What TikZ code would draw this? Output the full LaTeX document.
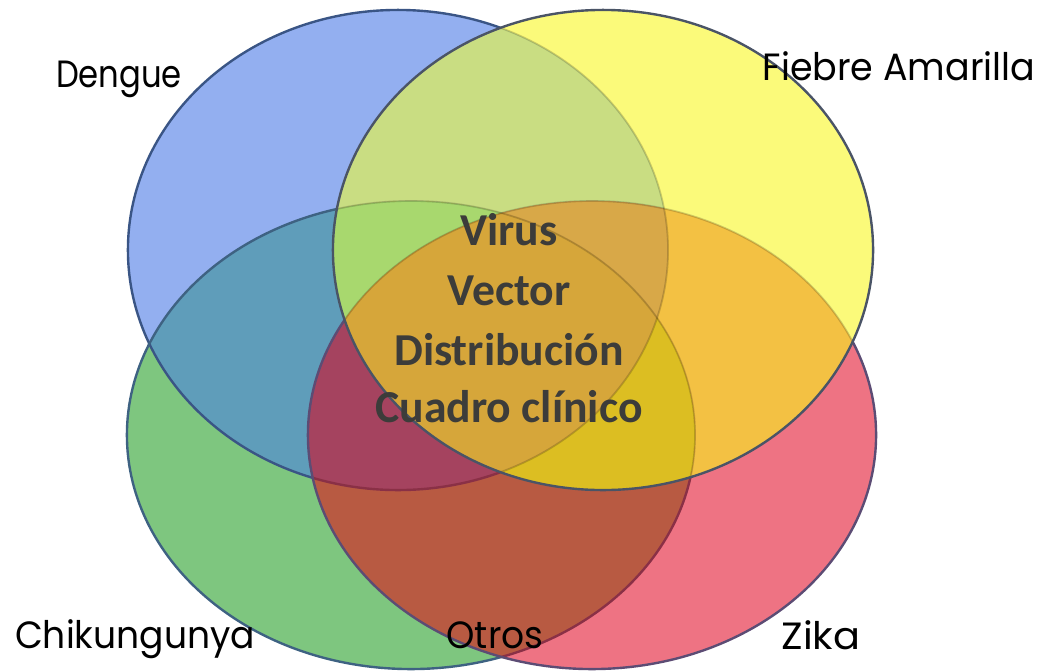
\documentclass[tikz,border=0pt]{standalone}
\usepackage{fontspec}
\newfontfamily\labfont{Poppins}
\newfontfamily\ctrfont{Carlito}
\definecolor{cB}{HTML}{93AFF0}
\definecolor{cY}{HTML}{FBFA7A}
\definecolor{cG}{HTML}{7EC67F}
\definecolor{cR}{HTML}{EE7383}
\definecolor{cBY}{HTML}{C9DD82}
\definecolor{cBG}{HTML}{5F9DBA}
\definecolor{cBR}{HTML}{A5435F}
\definecolor{cYG}{HTML}{DCBE22}
\definecolor{cYR}{HTML}{F3C143}
\definecolor{cGR}{HTML}{B85A42}
\definecolor{cBYG}{HTML}{A8D86E}
\definecolor{cBYR}{HTML}{D8A848}
\definecolor{cBGR}{HTML}{A5435F}
\definecolor{cYGR}{HTML}{DCBE22}
\definecolor{cBYGR}{HTML}{D6A63A}
\definecolor{lB}{HTML}{3A5585}
\definecolor{lG}{HTML}{3E6282}
\definecolor{lR}{HTML}{5C4C74}
\definecolor{lY}{HTML}{4A5466}
\definecolor{lIn}{HTML}{8A3046}
\definecolor{ctr}{HTML}{3C3C3A}
\begin{document}
\begin{tikzpicture}[x=0.025cm,y=-0.025cm,
  outl/.style={line width=1.7pt},
  faint/.style={draw=black, draw opacity=0.18, line width=1.3pt},
  lab/.style={font=\labfont\fontsize{27}{32}\selectfont, text=black, anchor=base, inner sep=0pt},
  ctrtxt/.style={font=\ctrfont\bfseries\fontsize{32.5}{40}\selectfont, text=ctr, anchor=base, inner sep=0pt}]
\def\eB{(398,250) ellipse [x radius=6.75cm, y radius=6cm]}
\def\eY{(603,250) ellipse [x radius=6.75cm, y radius=6cm]}
\def\eG{(411,435) ellipse [x radius=7.1cm, y radius=5.85cm]}
\def\eR{(592,435) ellipse [x radius=7.1cm, y radius=5.85cm]}
\def\bigbox{(-50,-50) rectangle (1100,721)}
\useasboundingbox (0,0) rectangle (1050,671);
\fill[white] (0,0) rectangle (1050,671);
% single sets
\fill[cB] \eB;
\fill[cG] \eG;
\fill[cR] \eR;
\fill[cY] \eY;
% pairs
\begin{scope}\clip \eB; \fill[cBY] \eY; \end{scope}
\begin{scope}\clip \eB; \fill[cBG] \eG; \end{scope}
\begin{scope}\clip \eB; \fill[cBR] \eR; \end{scope}
\begin{scope}\clip \eY; \fill[cYG] \eG; \end{scope}
\begin{scope}\clip \eY; \fill[cYR] \eR; \end{scope}
\begin{scope}\clip \eG; \fill[cGR] \eR; \end{scope}
% triples
\begin{scope}\clip \eB; \clip \eY; \fill[cBYG] \eG; \end{scope}
\begin{scope}\clip \eB; \clip \eY; \fill[cBYR] \eR; \end{scope}
\begin{scope}\clip \eB; \clip \eG; \fill[cBGR] \eR; \end{scope}
\begin{scope}\clip \eY; \clip \eG; \fill[cYGR] \eR; \end{scope}
% all four
\begin{scope}\clip \eB; \clip \eY; \clip \eG; \fill[cBYGR] \eR; \end{scope}
% outlines outside yellow and red
\begin{scope}[even odd rule]
  \clip \bigbox \eY;
  \clip \bigbox \eR;
  \draw[outl, lB] \eB;
  \draw[outl, lG] \eG;
\end{scope}
% outlines inside red, outside yellow
\begin{scope}[even odd rule]
  \clip \bigbox \eY;
  \clip \eR;
  \draw[outl, lIn] \eB;
  \draw[outl, lIn] \eG;
\end{scope}
\begin{scope}[even odd rule]
  \clip \bigbox \eY;
  \draw[outl, lR] \eR;
\end{scope}
% faint outlines under yellow
\begin{scope}
  \clip \eY;
  \draw[faint] \eB;
  \draw[faint] \eG;
  \draw[faint] \eR;
\end{scope}
\draw[outl, lY] \eY;
% labels
\node[lab] (dengue) at (119,87) {\scalebox{0.85}[1]{Dengue}};
\node[lab] (fiebre) at (899,80) {\scalebox{0.96}[1]{Fiebre Amarilla}};
\node[lab] (chik) at (135,648) {\scalebox{0.95}[1]{Chikungunya}};
\node[lab] (otros) at (495,648) {\scalebox{0.95}[1]{Otros}};
\node[lab] (zika) at (821,649) {\scalebox{1.05}[1]{Zika}};
% central text
\node[ctrtxt] (virus) at (509,245) {Virus};
\node[ctrtxt] (vector) at (509,305) {Vector};
\node[ctrtxt] (distr) at (509,365) {Distribución};
\node[ctrtxt] (cuadro) at (509,422) {Cuadro clínico};
\end{tikzpicture}
\end{document}
